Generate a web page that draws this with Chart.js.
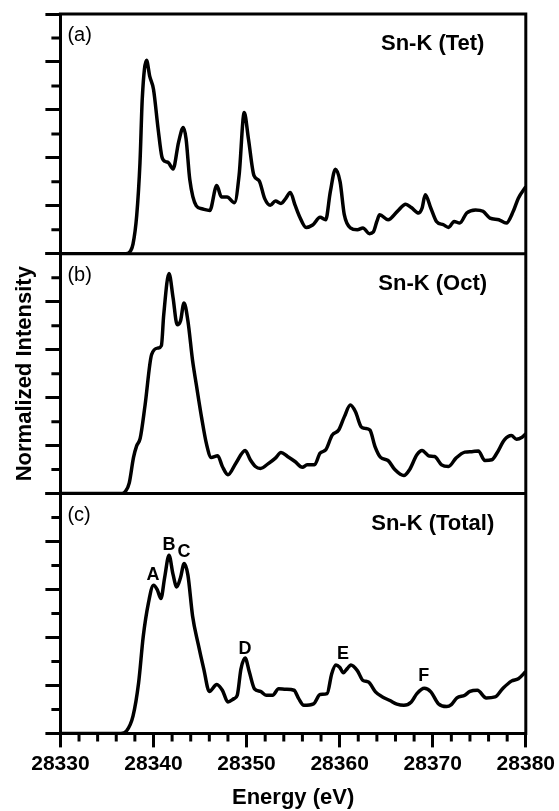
<!DOCTYPE html>
<html>
<head>
<meta charset="utf-8">
<script src="https://cdn.jsdelivr.net/npm/chart.js@4.4.1/dist/chart.umd.min.js"></script>
<style>
    html, body { margin: 0; padding: 0; background: #fff; }
    #wrap { width: 559px; height: 811px; }
</style>
</head>
<body>
<div id="wrap"><canvas id="chart-xanes" width="559" height="811"></canvas></div>
<script>
// ── Data (energy in eV, intensity in panel units 0..10) ──
const energyRange = [28330, 28380];

const energiesTet = [28330, 28337.0, 28337.5, 28337.8, 28338.2, 28338.55, 28338.8, 28339.25, 28339.6, 28340.0,
    28340.5, 28340.9, 28341.25, 28341.6, 28342.1, 28342.7, 28343.2, 28343.5, 28343.9, 28344.6, 28345.2,
    28346.05, 28346.8, 28347.3, 28347.9, 28348.7, 28349.2, 28349.75, 28350.2, 28350.8, 28351.35, 28351.95,
    28352.55, 28353.1, 28353.7, 28354.2, 28354.7, 28355.2, 28355.7, 28356.4, 28357.1, 28357.9, 28358.5,
    28359.0, 28359.55, 28360.05, 28360.5, 28361.15, 28361.9, 28362.5, 28363.2, 28363.6, 28364.0, 28364.3,
    28365.2, 28366.2, 28367.1, 28367.7, 28368.5, 28368.85, 28369.2, 28369.8, 28370.4, 28371.15, 28371.7,
    28372.3, 28372.9, 28373.65, 28374.6, 28375.4, 28376.15, 28377.1, 28377.9, 28378.65, 28379.2, 28380];
const intensityTet = [0, 0, 0.1, 0.4, 1.6, 3.8, 6.5, 8.07, 7.4, 6.86,
    5.2, 4.05, 3.85, 3.8, 3.54, 4.66, 5.27, 4.8, 3.1, 2.0, 1.88,
    1.81, 2.85, 2.37, 2.37, 2.13, 3.28, 5.89, 4.8, 3.26, 3.05, 2.3,
    2.02, 2.2, 2.1, 2.3, 2.56, 2.04, 1.55, 1.1, 1.2, 1.52, 1.42,
    2.59, 3.53, 3.0, 1.63, 1.08, 1.0, 1.08, 0.84, 0.9, 1.35, 1.63,
    1.42, 1.77, 2.07, 1.93, 1.70, 1.9, 2.46, 1.9, 1.35, 1.21, 1.1,
    1.35, 1.28, 1.70, 1.83, 1.77, 1.49, 1.42, 1.28, 1.77, 2.32, 2.8];

const energiesOct = [28330, 28336.6, 28337.0, 28337.4, 28337.85, 28338.2, 28338.57, 28339.1, 28339.8, 28340.5, 28340.85,
    28341.1, 28341.67, 28342.1, 28342.55, 28342.9, 28343.28, 28343.7, 28344.2, 28344.6, 28345.17, 28345.7,
    28346.2, 28346.9, 28347.4, 28348.0, 28348.85, 28349.85, 28350.4, 28350.95, 28351.5, 28352.3, 28353.1,
    28353.7, 28354.4, 28355.2, 28356.0, 28356.5, 28357.3, 28357.9, 28358.5, 28359.2, 28359.9, 28360.5,
    28361.15, 28361.7, 28362.3, 28362.7, 28363.25, 28363.8, 28364.4, 28365.2, 28365.95, 28366.9, 28367.5,
    28368.3, 28368.85, 28369.6, 28370.2, 28370.95, 28371.7, 28372.5, 28373.45, 28374.2, 28374.9, 28375.6,
    28376.35, 28376.9, 28377.7, 28378.45, 28379.0, 28379.6, 28380];
const intensityOct = [0, 0, 0.1, 0.45, 1.5, 2.0, 2.3, 3.7, 5.8, 6.07, 6.17,
    7.45, 9.18, 8.18, 7.04, 7.2, 7.95, 7.2, 5.55, 4.55, 3.17, 2.06,
    1.51, 1.58, 1.13, 0.79, 1.27, 1.80, 1.41, 1.13, 1.05, 1.24, 1.48,
    1.71, 1.55, 1.34, 1.1, 1.2, 1.2, 1.69, 1.82, 2.44, 2.65, 3.2,
    3.69, 3.41, 2.79, 2.72, 2.65, 1.96, 1.51, 1.38, 0.99, 0.75, 0.99,
    1.62, 1.80, 1.57, 1.55, 1.2, 1.13, 1.48, 1.73, 1.75, 1.78, 1.38,
    1.41, 1.69, 2.24, 2.42, 2.27, 2.35, 2.49];

const energiesTotal = [28330, 28336.5, 28337.1, 28337.8, 28338.4, 28338.9, 28339.45, 28340.0, 28340.4, 28340.8,
    28341.2, 28341.67, 28342.1, 28342.5, 28342.9, 28343.3, 28343.7, 28344.2, 28344.8, 28345.4, 28346.0,
    28346.8, 28347.4, 28348.0, 28348.65, 28349.0, 28349.4, 28349.85, 28350.3, 28350.85, 28351.5, 28352.1,
    28352.8, 28353.45, 28354.2, 28355.1, 28355.6, 28356.15, 28357.2, 28357.9, 28358.65, 28359.15, 28359.6,
    28360.0, 28360.4, 28360.85, 28361.2, 28361.9, 28362.5, 28363.1, 28363.85, 28364.6, 28365.4, 28366.15,
    28366.9, 28367.7, 28368.3, 28369.1, 28369.8, 28370.6, 28371.5, 28372.0, 28372.6, 28373.45, 28374.0,
    28374.8, 28375.75, 28376.7, 28377.5, 28378.45, 28379.2, 28380];
const intensityTotal = [0, 0, 0.1, 0.72, 2.1, 4.04, 5.42, 6.18, 6.0, 5.63,
    6.5, 7.43, 6.63, 6.11, 6.49, 7.08, 6.6, 4.9, 3.73, 2.69, 1.75,
    2.04, 1.8, 1.31, 1.45, 1.59, 2.69, 3.14, 2.56, 1.86, 1.75, 1.59,
    1.59, 1.86, 1.84, 1.8, 1.45, 1.17, 1.23, 1.62, 1.66, 2.49, 2.85,
    2.76, 2.53, 2.72, 2.85, 2.62, 2.21, 2.14, 1.73, 1.52, 1.37, 1.22,
    1.17, 1.31, 1.66, 1.88, 1.73, 1.24, 1.12, 1.2, 1.48, 1.59, 1.75,
    1.8, 1.48, 1.52, 1.86, 2.18, 2.28, 2.58];

const panelTags = ['(a)', '(b)', '(c)'];
const panelTitles = ['Sn-K (Tet)', 'Sn-K (Oct)', 'Sn-K (Total)'];

// Peak labels on the total spectrum: letter, energy, intensity of label baseline
const peakLetters = ['A', 'B', 'C', 'D', 'E', 'F'];
const peakEnergies = [28339.96, 28341.67, 28343.28, 28349.84, 28360.37, 28369.03];
const peakLevels = [6.39, 7.63, 7.34, 3.32, 3.12, 2.20];

// ── Style ──
const fontFamily = "'Liberation Sans', Arial, Helvetica, sans-serif";
const ink = '#000';
const panelIds = ['ya', 'yb', 'yc'];

const toPoints = (xs, ys) => xs.map((x, i) => ({ x, y: ys[i] }));

const lineStyle = {
    borderColor: ink,
    borderWidth: 3.5,
    pointRadius: 0,
    fill: false,
    cubicInterpolationMode: 'monotone',
    xAxisID: 'x',
};

// shared stacked panel axis
const panelAxis = (weight, withTitle) => ({
    type: 'linear',
    position: 'left',
    stack: 'panels',
    stackWeight: 1,
    weight: weight,
    min: 0,
    max: 10,
    ticks: { display: false, stepSize: 2 },
    grid: { drawOnChartArea: false, drawTicks: true, tickLength: 15, color: ink, lineWidth: 3 },
    border: { display: true, color: ink, width: 3 },
    title: {
        display: withTitle,
        text: 'Normalized Intensity',
        color: ink,
        font: { family: fontFamily, size: 22, weight: 'bold' },
        padding: { top: 12, bottom: 7 },
    },
});

// Frame, minor ticks and in-panel text
const framePlugin = {
    id: 'framePlugin',
    afterDraw(chart) {
        const { ctx, chartArea, scales } = chart;
        const { left, right, top, bottom } = chartArea;
        const xs = scales.x;
        ctx.save();
        ctx.strokeStyle = ink;
        ctx.lineWidth = 3;
        ctx.lineCap = 'butt';
        ctx.beginPath();
        ctx.moveTo(left - 1.5, top);
        ctx.lineTo(right, top);
        ctx.moveTo(right, top - 1.5);
        ctx.lineTo(right, bottom + 1.5);
        for (const id of ['ya', 'yb']) {
            const y = scales[id].bottom;
            ctx.moveTo(left, y);
            ctx.lineTo(right, y);
        }
        // minor y ticks
        for (const id of panelIds) {
            for (let v = 1; v < 10; v += 2) {
                const y = scales[id].getPixelForValue(v);
                ctx.moveTo(left - 9, y);
                ctx.lineTo(left, y);
            }
        }
        // minor x ticks every 2 eV
        for (let e = energyRange[0] + 2; e < energyRange[1]; e += 2) {
            if (e % 10 === 0) continue;
            const x = xs.getPixelForValue(e);
            ctx.moveTo(x, bottom);
            ctx.lineTo(x, bottom + 8);
        }
        ctx.stroke();

        ctx.fillStyle = ink;
        ctx.textBaseline = 'alphabetic';
        panelIds.forEach((id, i) => {
            const s = scales[id];
            ctx.font = `20px ${fontFamily}`;
            ctx.textAlign = 'left';
            ctx.fillText(panelTags[i], left + 7, s.top + 27);
            ctx.font = `bold 22px ${fontFamily}`;
            ctx.textAlign = 'center';
            ctx.fillText(panelTitles[i], xs.getPixelForValue(28370), s.top + 36);
        });

        ctx.font = `bold 18px ${fontFamily}`;
        ctx.textAlign = 'center';
        peakLetters.forEach((ch, i) => {
            ctx.fillText(ch, xs.getPixelForValue(peakEnergies[i]), scales.yc.getPixelForValue(peakLevels[i]));
        });
        ctx.restore();
    }
};

Chart.defaults.font.family = fontFamily;
Chart.defaults.color = ink;

const ctx = document.getElementById('chart-xanes').getContext('2d');
const chart = new Chart(ctx, {
    type: 'line',
    data: {
        datasets: [
            { ...lineStyle, label: panelTitles[0], yAxisID: 'ya', data: toPoints(energiesTet, intensityTet) },
            { ...lineStyle, label: panelTitles[1], yAxisID: 'yb', data: toPoints(energiesOct, intensityOct) },
            { ...lineStyle, label: panelTitles[2], yAxisID: 'yc', data: toPoints(energiesTotal, intensityTotal) },
        ]
    },
    options: {
        responsive: false,
        animation: false,
        devicePixelRatio: 1,
        layout: { padding: { left: 0, right: 32, top: 14, bottom: 0 } },
        plugins: {
            legend: { display: false },
            tooltip: { enabled: false },
        },
        scales: {
            x: {
                type: 'linear',
                position: 'bottom',
                min: energyRange[0],
                max: energyRange[1],
                ticks: {
                    stepSize: 10,
                    autoSkip: false,
                    maxRotation: 0,
                    padding: 4,
                    color: ink,
                    font: { family: fontFamily, size: 21, weight: 'bold' },
                    callback: (v) => String(v),
                },
                grid: { drawOnChartArea: false, drawTicks: true, tickLength: 14, color: ink, lineWidth: 3 },
                border: { display: true, color: ink, width: 3 },
                title: {
                    display: true,
                    text: 'Energy (eV)',
                    color: ink,
                    font: { family: fontFamily, size: 22, weight: 'bold' },
                    padding: { top: 4, bottom: 0 },
                },
            },
            ya: panelAxis(3, false),
            yb: panelAxis(2, true),
            yc: panelAxis(1, false),
        }
    },
    plugins: [framePlugin]
});
</script>
</body>
</html>
